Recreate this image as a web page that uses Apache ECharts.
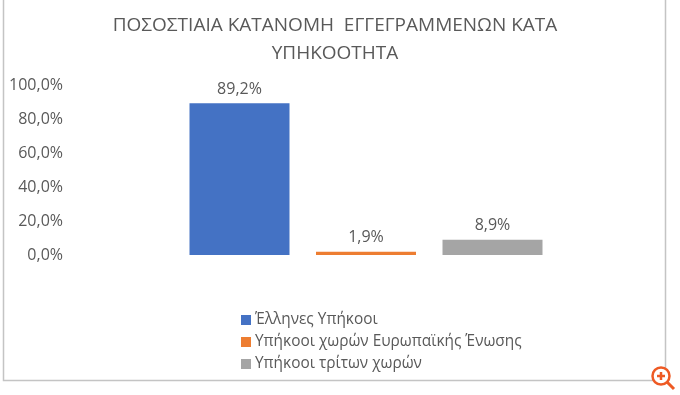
<!DOCTYPE html>
<html>
<head>
<meta charset="utf-8">
<style>
  html, body { margin: 0; padding: 0; background: #fff; }
  #chart { width: 680px; height: 395px; }
</style>
</head>
<body>
<div id="chart"></div>
<script src="https://cdn.jsdelivr.net/npm/echarts@6/dist/echarts.min.js"></script>
<script>
const title_text = 'ΠΟΣΟΣΤΙΑΙΑ ΚΑΤΑΝΟΜΗ  ΕΓΓΕΓΡΑΜΜΕΝΩΝ ΚΑΤΑ\nΥΠΗΚΟΟΤΗΤΑ';
const categories = ['Σύνολο'];
const series_names = ['Έλληνες Υπήκοοι', 'Υπήκοοι χωρών Ευρωπαϊκής Ένωσης', 'Υπήκοοι τρίτων χωρών'];
const series_values = [89.2, 1.9, 8.9];
const series_colors = ['#4472c4', '#ed7d31', '#a5a5a5'];

const font = '"Open Sans", "Noto Sans", sans-serif';
const fmt = v => v.toFixed(1).replace('.', ',') + '%';

const chart = echarts.init(document.getElementById('chart'), null, { renderer: 'canvas' });
chart.setOption({
  animation: false,
  textStyle: { fontFamily: font },
  title: {
    text: title_text,
    left: 330,
    top: 7,
    textAlign: 'center',
    textStyle: { color: '#595959', fontSize: 19, fontWeight: 'normal', fontFamily: font, lineHeight: 28 }
  },
  grid: { left: 70, right: 18, top: 85, height: 170 },
  legend: {
    orient: 'vertical',
    left: 236,
    top: 307,
    itemWidth: 10,
    itemHeight: 10,
    itemGap: 6,
    icon: 'rect',
    data: series_names,
    textStyle: { color: '#595959', fontSize: 15.4, lineHeight: 16, fontFamily: font, padding: [0, 0, 0, -1] }
  },
  xAxis: {
    type: 'category',
    data: categories,
    axisLine: { show: false },
    axisTick: { show: false },
    axisLabel: { show: false }
  },
  yAxis: {
    type: 'value',
    min: 0,
    max: 100,
    interval: 20,
    axisLine: { show: false },
    axisTick: { show: false },
    splitLine: { show: false },
    axisLabel: { color: '#595959', fontSize: 16, margin: 7, fontFamily: font, formatter: fmt }
  },
  series: series_names.map((name, i) => ({
    name: name,
    type: 'bar',
    data: [series_values[i]],
    barWidth: 100,
    barGap: '26.5%',
    itemStyle: { color: series_colors[i] },
    label: {
      show: true,
      position: 'top',
      distance: 6,
      color: '#595959',
      fontSize: 16,
      fontFamily: font,
      formatter: p => fmt(p.value)
    }
  })),
  graphic: [
    // frame of the picture, no top edge
    { type: 'polyline', silent: true, shape: { points: [[3.5, 0], [3.5, 380.5], [665.5, 380.5], [665.5, 0]] },
      style: { fill: null, stroke: '#c4c4c4', lineWidth: 1.5 } },
    // zoom icon in the corner
    { type: 'circle', silent: true, shape: { cx: 661, cy: 376, r: 8.5 },
      style: { fill: '#fff', stroke: '#ee5a24', lineWidth: 2.5 } },
    { type: 'line', silent: true, shape: { x1: 667, y1: 382, x2: 674, y2: 389 },
      style: { stroke: '#ee5a24', lineWidth: 3 } },
    { type: 'line', silent: true, shape: { x1: 657, y1: 376, x2: 665, y2: 376 },
      style: { stroke: '#ee5a24', lineWidth: 2.5 } },
    { type: 'line', silent: true, shape: { x1: 661, y1: 372, x2: 661, y2: 380 },
      style: { stroke: '#ee5a24', lineWidth: 2.5 } }
  ]
});
window.addEventListener('resize', () => {
  chart.resize();
});
</script>
</body>
</html>
